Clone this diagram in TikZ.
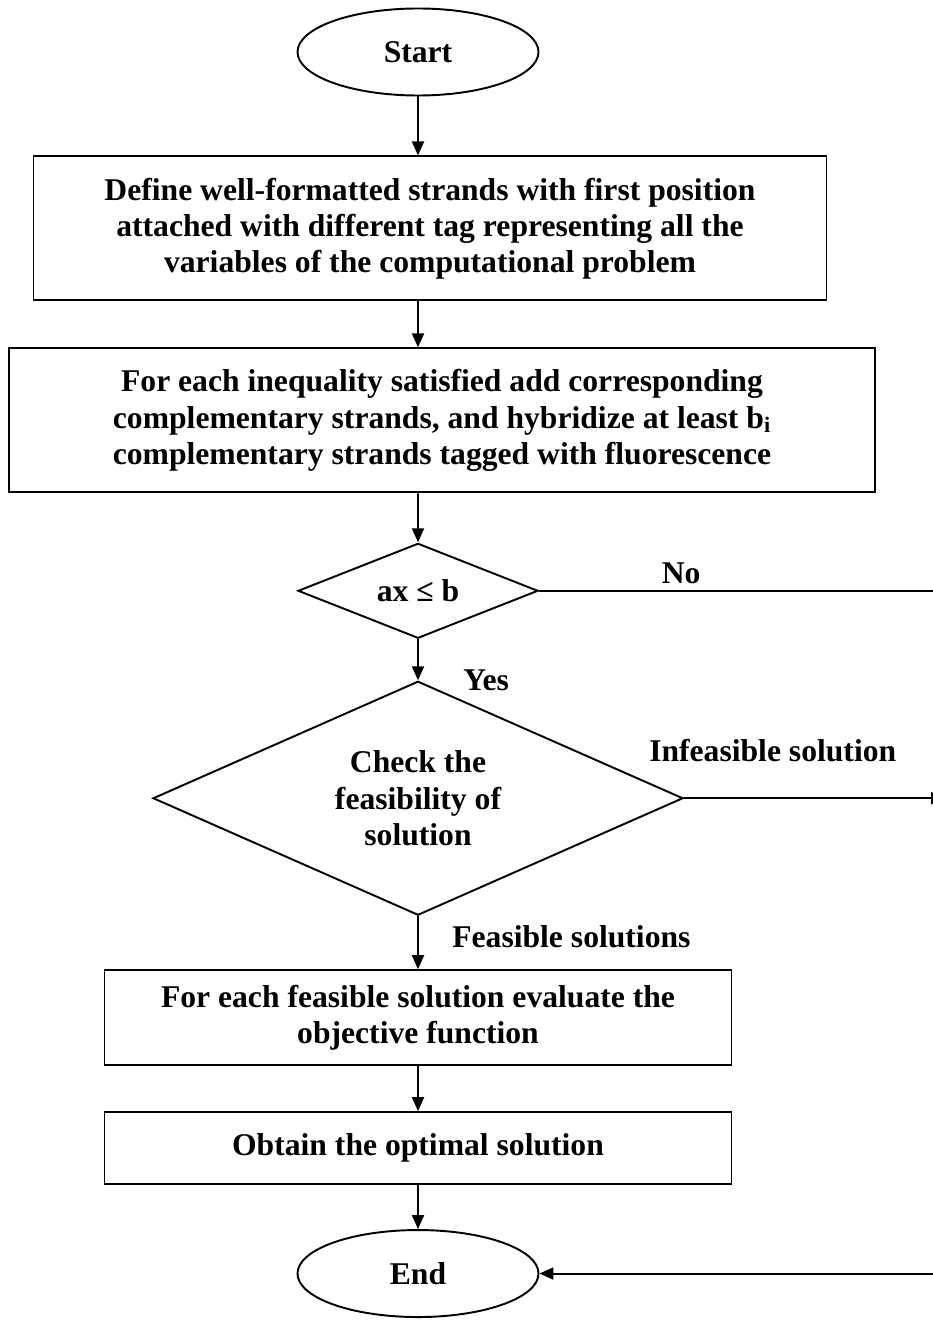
\documentclass[tikz,border=0pt]{standalone}
\usepackage{fontspec}
\setmainfont{Liberation Serif}
\usepackage{tikz}
\usetikzlibrary{shapes.geometric, positioning, arrows.meta}

\begin{document}
\begin{tikzpicture}[>={Triangle[length=0.28cm,width=0.24cm]}, line width=1.1pt,
    every node/.style={font=\bfseries\fontsize{18}{20.5}\selectfont, align=center},
    terminal/.style={ellipse, draw, minimum width=4.82cm, minimum height=1.74cm, inner sep=0pt},
    process/.style={rectangle, draw, inner sep=0pt},
    decision/.style={diamond, draw, inner sep=0pt},
    flow/.style={->}]
    \useasboundingbox (0,0) rectangle (18.66,-26.54);
    % Main column
    \node[terminal] (start) at (8.36,-1.04) {Start};
    \node[process, minimum width=15.86cm, minimum height=2.88cm] (define) [below=1.18cm of start, xshift=0.24cm]
        {Define well-formatted strands with first position\\attached with different tag representing all the\\variables of the computational problem};
    \node[process, minimum width=17.32cm, minimum height=2.88cm] (hybrid) [below=0.92cm of define, xshift=0.24cm]
        {For each inequality satisfied add corresponding\\complementary strands, and hybridize at least b\textsubscript{i}\\complementary strands tagged with fluorescence};
    \node[decision, shape aspect=2.53, minimum width=4.8cm, minimum height=1.9cm] (ineq) [below=0.98cm of hybrid, xshift=-0.48cm] {ax ≤ b};
    \node[decision, shape aspect=2.26, minimum width=10.6cm, minimum height=4.68cm] (feas) [below=0.82cm of ineq]
        {Check the\\feasibility of\\solution};
    \node[process, minimum width=12.54cm, minimum height=1.9cm] (evaluate) [below=1.06cm of feas]
        {For each feasible solution evaluate the\\objective function};
    \node[process, minimum width=12.54cm, minimum height=1.44cm] (optimal) [below=0.9cm of evaluate]
        {Obtain the optimal solution};
    \node[terminal] (finish) [below=0.88cm of optimal] {End};
    % Right-hand return line (runs just past the page edge)
    \coordinate (rail) at (18.9,0);

    % Main flow
    \draw[flow] (start) -- (start |- define.north);
    \draw[flow] (start |- define.south) -- (start |- hybrid.north);
    \draw[flow] (start |- hybrid.south) -- (ineq.north);
    \draw[flow] (ineq.south) -- (feas.north) node[right, xshift=0.77cm] {Yes};
    \draw[flow] (feas.south) -- node[pos=0.38, right, xshift=0.55cm] {Feasible solutions} (evaluate.north);
    \draw[flow] (evaluate) -- (optimal);
    \draw[flow] (optimal) -- (finish);
    % Exits to the right
    \draw[flow] (feas.east) -- node[pos=0.34, above=0.6cm] {Infeasible solution} (feas.east -| rail);
    \draw[flow] (ineq.east) -- node[pos=0.35, above] {No} (ineq.east -| rail) |- (finish.east);
\end{tikzpicture}
\end{document}
